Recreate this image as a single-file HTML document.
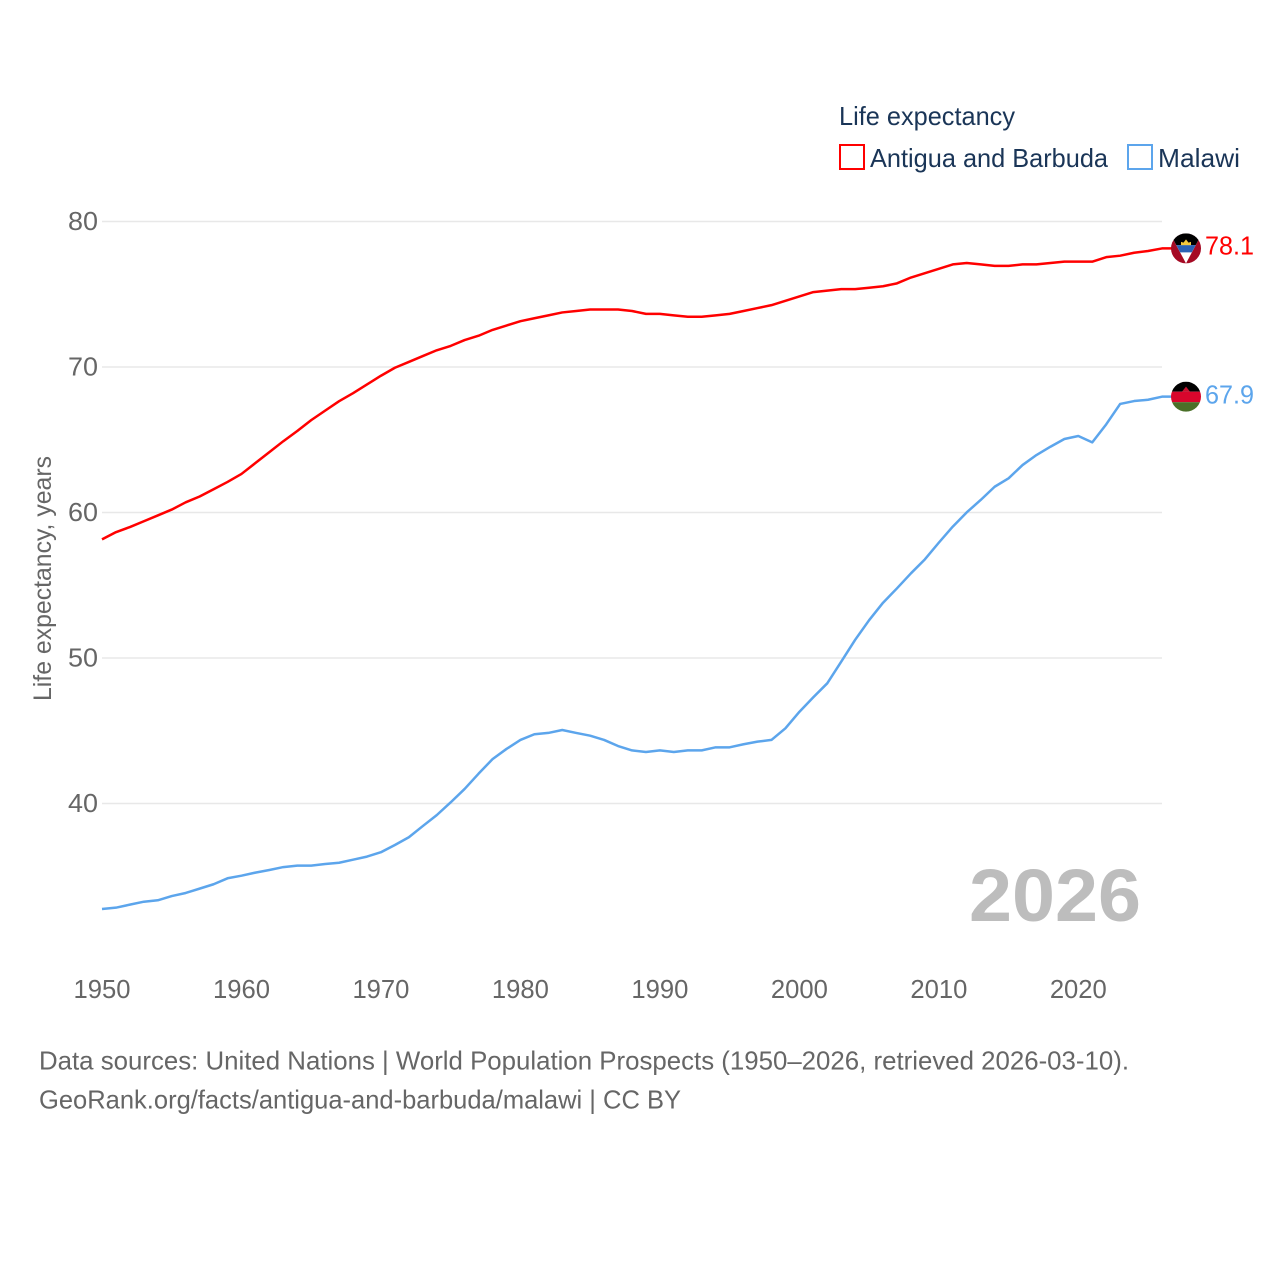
<!DOCTYPE html>
<html lang="en">
<head>
<meta charset="utf-8">
<title>Life expectancy: Antigua and Barbuda vs Malawi</title>
<style>
html,body{margin:0;padding:0;background:#fff;width:1280px;height:1280px;overflow:hidden}
svg{display:block}
text{font-family:"Liberation Sans",sans-serif}
</style>
</head>
<body>
<svg id="chart" xmlns="http://www.w3.org/2000/svg" width="1280" height="1280" viewBox="0 0 1280 1280">
<defs>
<clipPath id="flag-clip"><circle cx="0" cy="0" r="15"/></clipPath>
</defs>
<rect x="0" y="0" width="1280" height="1280" fill="#ffffff"/>
<g id="grid"></g>
<g id="yticks"></g>
<g id="xticks"></g>
<text transform="translate(51,701) rotate(-90)" font-size="25" fill="#666666" textLength="245" lengthAdjust="spacingAndGlyphs">Life expectancy, years</text>
<text x="839" y="125" font-size="26" fill="#1a3557" textLength="176" lengthAdjust="spacingAndGlyphs">Life expectancy</text>
<rect x="840" y="145" width="24" height="24" fill="#ffffff" stroke="#ff0000" stroke-width="2"/>
<text x="870" y="167" font-size="26" fill="#1a3557" textLength="238" lengthAdjust="spacingAndGlyphs">Antigua and Barbuda</text>
<rect x="1128" y="145" width="24" height="24" fill="#ffffff" stroke="#5ca5ec" stroke-width="2"/>
<text x="1158" y="167" font-size="26" fill="#1a3557" textLength="82" lengthAdjust="spacingAndGlyphs">Malawi</text>
<text x="969" y="921" font-size="74" font-weight="700" fill="#bdbdbd" textLength="172" lengthAdjust="spacingAndGlyphs">2026</text>
<g id="series"></g>
<g id="flag-antigua">
<g clip-path="url(#flag-clip)">
<rect x="-15" y="-15" width="30" height="30" fill="#a50a24"/>
<polygon points="-16,-15 16,-15 0,15" fill="#ffffff"/>
<polygon points="-16,-15 16,-15 9.7,-3.3 -9.7,-3.3" fill="#000000"/>
<polygon points="-9.7,-3.3 9.7,-3.3 5.8,4 -5.8,4" fill="#2a62b5"/>
<polygon points="-5,-3.3 -5,-6.5 -2.5,-5.8 0,-9 2.5,-5.8 5,-6.5 5,-3.3" fill="#f5c93c"/>
</g>
</g>
<g id="flag-malawi">
<g clip-path="url(#flag-clip)">
<rect x="-15" y="-15" width="30" height="10" fill="#000000"/>
<rect x="-15" y="-5" width="30" height="10.5" fill="#d8062c"/>
<rect x="-15" y="5.5" width="30" height="10" fill="#4a7028"/>
<polygon points="-4,-5 -2,-7.5 0,-10 2,-7.5 4,-5" fill="#c8102e"/>
</g>
</g>
<text x="39" y="1069.5" font-size="26" fill="#666666" textLength="1090" lengthAdjust="spacingAndGlyphs">Data sources: United Nations | World Population Prospects (1950–2026, retrieved 2026-03-10).</text>
<text x="39" y="1108.5" font-size="26" fill="#666666" textLength="642" lengthAdjust="spacingAndGlyphs">GeoRank.org/facts/antigua-and-barbuda/malawi | CC BY</text>
</svg>
<script>
const years = [1950,1951,1952,1953,1954,1955,1956,1957,1958,1959,1960,1961,1962,1963,1964,1965,1966,1967,1968,1969,1970,1971,1972,1973,1974,1975,1976,1977,1978,1979,1980,1981,1982,1983,1984,1985,1986,1987,1988,1989,1990,1991,1992,1993,1994,1995,1996,1997,1998,1999,2000,2001,2002,2003,2004,2005,2006,2007,2008,2009,2010,2011,2012,2013,2014,2015,2016,2017,2018,2019,2020,2021,2022,2023,2024,2025,2026];
const antiguaValues = [58.15,58.65,59.0,59.4,59.8,60.2,60.7,61.1,61.6,62.1,62.65,63.4,64.15,64.9,65.6,66.35,67.0,67.65,68.2,68.8,69.4,69.95,70.35,70.75,71.15,71.45,71.85,72.15,72.55,72.85,73.15,73.35,73.55,73.75,73.85,73.95,73.95,73.95,73.85,73.65,73.65,73.55,73.45,73.45,73.55,73.65,73.85,74.05,74.25,74.55,74.85,75.15,75.25,75.35,75.35,75.45,75.55,75.75,76.15,76.45,76.75,77.05,77.15,77.05,76.95,76.95,77.05,77.05,77.15,77.24,77.24,77.24,77.55,77.65,77.85,77.97,78.15];
const malawiValues = [32.75,32.84,33.05,33.25,33.35,33.64,33.85,34.15,34.45,34.86,35.04,35.25,35.43,35.63,35.73,35.73,35.84,35.93,36.14,36.35,36.65,37.15,37.68,38.45,39.2,40.08,41.0,42.05,43.05,43.75,44.37,44.76,44.85,45.05,44.85,44.66,44.37,43.95,43.65,43.54,43.65,43.54,43.65,43.65,43.86,43.86,44.07,44.25,44.37,45.17,46.3,47.3,48.26,49.75,51.25,52.6,53.8,54.79,55.82,56.78,57.93,59.03,60.01,60.86,61.77,62.35,63.26,63.95,64.52,65.05,65.26,64.82,66.06,67.46,67.66,67.75,67.96];
const yTickValues = [40,50,60,70,80];
const xTickValues = [1950,1960,1970,1980,1990,2000,2010,2020];
const antiguaLabel = "78.1";
const malawiLabel = "67.9";

const NS = "http://www.w3.org/2000/svg";
function xScale(year){ return 102 + (year - 1950) * (1162 - 102) / (2026 - 1950); }
function yScale(value){ return 221.5 + (80 - value) * (803.5 - 221.5) / (80 - 40); }
function make(tag, attrs, parent, txt){
  const el = document.createElementNS(NS, tag);
  for (const k in attrs) el.setAttribute(k, attrs[k]);
  if (txt !== undefined) el.textContent = txt;
  parent.appendChild(el);
  return el;
}
const gridG = document.getElementById('grid');
const yG = document.getElementById('yticks');
const xG = document.getElementById('xticks');
const seriesG = document.getElementById('series');
const svg = document.getElementById('chart');

yTickValues.forEach(function(v){
  const line = make('line', {x1:102, x2:1162, y1:yScale(v), y2:yScale(v), stroke:'#e8e8e8', 'stroke-width':1.5}, gridG);
  
  
  const t = make('text', {x:98, y:yScale(v) + 8.5, 'text-anchor':'end', 'font-size':26, fill:'#666666', textLength:30, lengthAdjust:'spacingAndGlyphs'}, yG, String(v));
  
  
});
xTickValues.forEach(function(v){
  const t = make('text', {x:xScale(v), y:998, 'text-anchor':'middle', 'font-size':26, fill:'#666666', textLength:57, lengthAdjust:'spacingAndGlyphs'}, xG, String(v));
  
  
});
function pathFor(values){
  let d = values.map(function(v, i){ return (i ? 'L' : 'M') + xScale(years[i]).toFixed(2) + ' ' + yScale(v).toFixed(2); }).join(' ');
  const last = values[values.length - 1];
  return d + ' L' + (xScale(years[years.length - 1]) + 10) + ' ' + yScale(last).toFixed(2);
}
const antiguaLine = make('path', {d:pathFor(antiguaValues), fill:'none', stroke:'#ff0000', 'stroke-width':2.5, 'stroke-linejoin':'round'}, seriesG);


const malawiLine = make('path', {d:pathFor(malawiValues), fill:'none', stroke:'#5ca5ec', 'stroke-width':2.5, 'stroke-linejoin':'round'}, seriesG);



const lastX = xScale(years[years.length - 1]);
const aY = yScale(antiguaValues[antiguaValues.length - 1]);
const mY = yScale(malawiValues[malawiValues.length - 1]);
document.getElementById('flag-antigua').setAttribute('transform', 'translate(' + (lastX + 24) + ',' + aY + ')');
document.getElementById('flag-malawi').setAttribute('transform', 'translate(' + (lastX + 24) + ',' + mY + ')');
const aLabel = make('text', {x:lastX + 43, y:aY + 6, 'font-size':26, fill:'#ff0000', textLength:49, lengthAdjust:'spacingAndGlyphs'}, svg, antiguaLabel);


const mLabel = make('text', {x:lastX + 43, y:mY + 7, 'font-size':26, fill:'#5ca5ec', textLength:49, lengthAdjust:'spacingAndGlyphs'}, svg, malawiLabel);


</script>
</body>
</html>
